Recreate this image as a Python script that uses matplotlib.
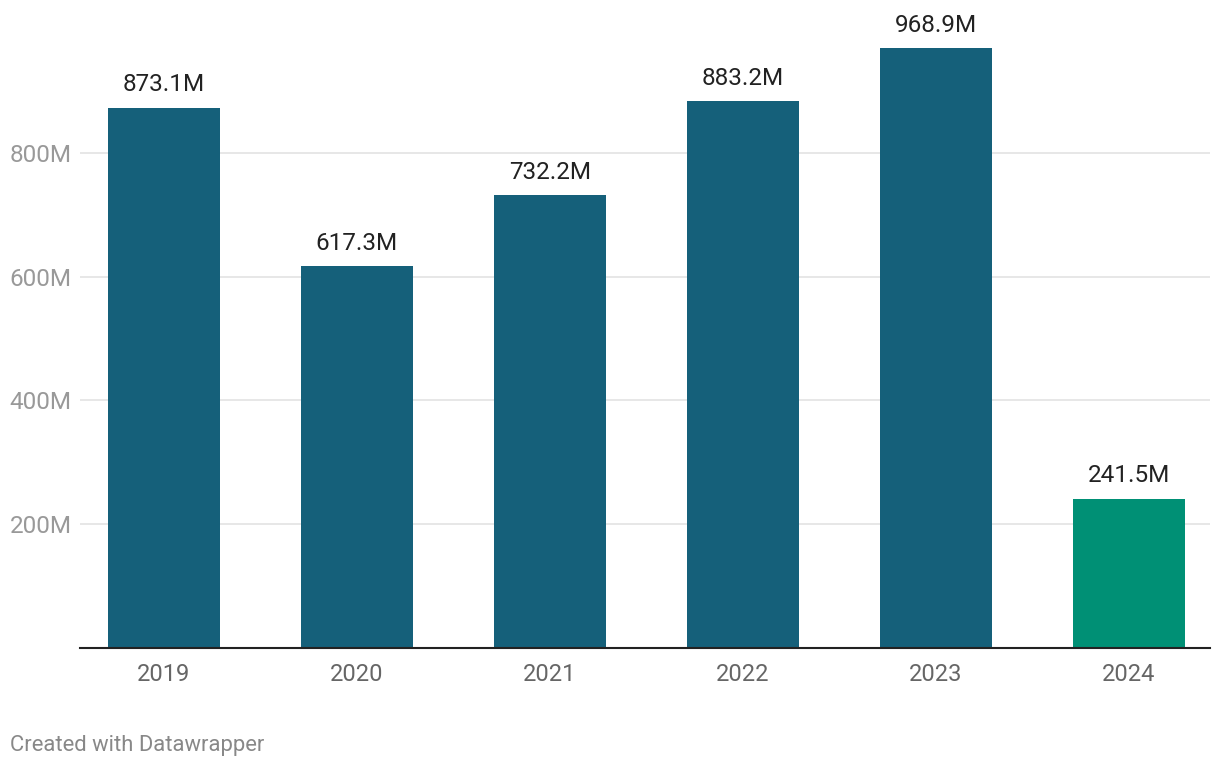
import matplotlib.pyplot as plt

years = ["2019", "2020", "2021", "2022", "2023", "2024"]
values = [873.1, 617.3, 732.2, 883.2, 968.9, 241.5]
labels = ["873.1M", "617.3M", "732.2M", "883.2M", "968.9M", "241.5M"]
y_ticks = [200, 400, 600, 800]
y_tick_labels = ["200M", "400M", "600M", "800M"]

plt.rcParams['font.family'] = ['Roboto', 'DejaVu Sans']

fig = plt.figure(figsize=(12.2, 7.7), dpi=100)
ax = fig.add_axes([80 / 1220, 122 / 770, 1130 / 1220, 619 / 770])

colors = ["#15607a"] * 5 + ["#009075"]
x = list(range(len(years)))
ax.bar(x, values, width=0.58, color=colors, zorder=2)

for xi, v, lab in zip(x, values, labels):
    ax.annotate(lab, (xi, v), xytext=(0, 8), textcoords="offset points",
                ha="center", va="bottom", fontsize=17.5, color="#222222")

ax.set_xlim(-0.435, 5.42)
ax.set_ylim(0, 1000)
ax.set_xticks(x)
ax.set_xticklabels(years, fontsize=17, color="#666666")
ax.set_yticks(y_ticks)
ax.set_yticklabels(y_tick_labels, fontsize=17.5, color="#999999")
ax.tick_params(axis="both", length=0)
ax.tick_params(axis="x", pad=10.5)
ax.tick_params(axis="y", pad=6)

ax.grid(axis="y", color="#e3e3e3", linewidth=1.2, zorder=0)
for s in ["top", "right", "left"]:
    ax.spines[s].set_visible(False)
ax.spines["bottom"].set_color("#222222")
ax.spines["bottom"].set_linewidth(1.5)
ax.spines["bottom"].set_zorder(3)

fig.text(10 / 1220, 1 - 746 / 770, "Created with Datawrapper", fontsize=15.8,
         color="#888888", ha="left", va="center")

plt.savefig("out.png", dpi=100)
